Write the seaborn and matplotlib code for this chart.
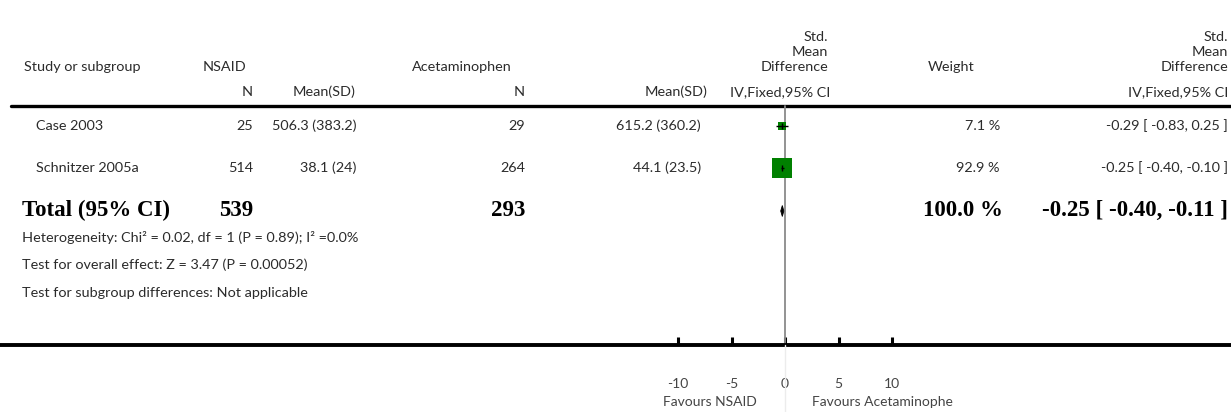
import matplotlib
matplotlib.use("Agg")
import matplotlib.pyplot as plt
import seaborn as sns
import pandas as pd
import numpy as np

# ---------------- data ----------------
studies = ["Case 2003", "Schnitzer 2005a"]
nsaid_n = [25, 514]
nsaid_mean_sd = ["506.3 (383.2)", "38.1 (24)"]
acet_n = [29, 264]
acet_mean_sd = ["615.2 (360.2)", "44.1 (23.5)"]
smd = [-0.29, -0.25]
ci_low = [-0.83, -0.40]
ci_high = [0.25, -0.10]
weights = [7.1, 92.9]

total_label = "Total (95% CI)"
total_nsaid_n = 539
total_acet_n = 293
total_weight = 100.0
total_smd = -0.25
total_low = -0.40
total_high = -0.11

footer_lines = [
    "Heterogeneity: Chi² = 0.02, df = 1 (P = 0.89); I² =0.0%",
    "Test for overall effect: Z = 3.47 (P = 0.00052)",
    "Test for subgroup differences: Not applicable",
]
tick_values = [-10, -5, 0, 5, 10]
tick_labels = ["-10", "-5", "0", "5", "10"]
favours_left = "Favours NSAID"
favours_right = "Favours Acetaminophe"

# ---------------- layout ----------------
W, H = 1231, 412
sns.set_theme(style="white")
plt.rcParams["font.family"] = ["Lato", "DejaVu Sans"]

fig = plt.figure(figsize=(W / 100, H / 100), dpi=100)
AX_BOTTOM = 345  # pixel row of the axis line
ax = fig.add_axes([0, 1 - AX_BOTTOM / H, 1, AX_BOTTOM / H])
X0, PX_PER_UNIT = 785, 10.7
ax.set_xlim(-X0 / PX_PER_UNIT, (W - X0) / PX_PER_UNIT)
ax.set_ylim(AX_BOTTOM, 0)

TXT = "#2b2b2b"
FS = 10.4
BFS = 16.5


def t(x, y, s, ha="left", bold=False, size=None, color=TXT, **kw):
    if bold:
        fig.text(x / W, 1 - y / H, s, ha=ha, va="center", fontsize=size or BFS,
                 fontweight="bold", family=["Liberation Serif", "DejaVu Serif"],
                 color="black", **kw)
    else:
        fig.text(x / W, 1 - y / H, s, ha=ha, va="center", fontsize=size or FS,
                 fontweight="normal", color=color, **kw)


# header
t(828, 37, "Std.", ha="right")
t(828, 52, "Mean", ha="right")
t(1228, 37, "Std.", ha="right")
t(1228, 52, "Mean", ha="right")
row_h1 = 67
t(24, row_h1, "Study or subgroup")
t(203, row_h1, "NSAID")
t(412, row_h1, "Acetaminophen")
t(828, row_h1, "Difference", ha="right")
t(951, row_h1, "Weight", ha="center")
t(1228, row_h1, "Difference", ha="right")
row_h2 = 92
t(253, row_h2, "N", ha="right")
t(356, row_h2, "Mean(SD)", ha="right")
t(525, row_h2, "N", ha="right")
t(707, row_h2, "Mean(SD)", ha="right")
t(830, row_h2, "IV,Fixed,95% CI", ha="right")
t(1228, row_h2, "IV,Fixed,95% CI", ha="right")

# top rule
ax.axhline(106, xmin=11 / W, xmax=1, color="black", lw=2.4, clip_on=False)

# study rows
row_y = [126, 168]
for i, y in enumerate(row_y):
    t(36, y, studies[i])
    t(253, y, str(nsaid_n[i]), ha="right")
    t(356, y, nsaid_mean_sd[i], ha="right")
    t(525, y, str(acet_n[i]), ha="right")
    t(701, y, acet_mean_sd[i], ha="right")
    t(1000, y, f"{weights[i]:.1f} %", ha="right")
    t(1228, y, f"{smd[i]:.2f} [ {ci_low[i]:.2f}, {ci_high[i]:.2f} ]", ha="right")

df = pd.DataFrame({"smd": smd, "y": row_y, "w": weights})
sns.scatterplot(data=df, x="smd", y="y", size="w", sizes=(30, 210), marker="s",
                color="#008000", edgecolor="none", legend=False, ax=ax, zorder=3)
ax.hlines(row_y, ci_low, ci_high, color="black", lw=1.0, zorder=4)
ax.scatter(smd, row_y, marker="|", s=25, color="black", lw=1.0, zorder=5)

# total row
ty = 210
t(22, ty, total_label, bold=True)
t(253, ty, str(total_nsaid_n), ha="right", bold=True)
t(525, ty, str(total_acet_n), ha="right", bold=True)
t(1003, ty, f"{total_weight:.1f} %", ha="right", bold=True)
t(1228, ty, f"{total_smd:.2f} [ {total_low:.2f}, {total_high:.2f} ]", ha="right", bold=True)
ax.fill([total_low, total_smd, total_high, total_smd],
        [ty + 1, ty - 4.5, ty + 1, ty + 6.5], color="black", lw=0.6, zorder=5)

# footer
for j, line in enumerate(footer_lines):
    t(22, 237 + 28 * j, line)

# reference line at zero
ax.axvline(0, ymin=0, ymax=(AX_BOTTOM - 106) / AX_BOTTOM, color="#8a8a8a", lw=1.3, zorder=2)
fig.add_artist(plt.Line2D([X0 / W, X0 / W], [0, 1 - AX_BOTTOM / H], color="#ececec", lw=1.0))

# axis
for side in ["top", "right", "left"]:
    ax.spines[side].set_visible(False)
ax.spines["bottom"].set_linewidth(2.8)
ax.spines["bottom"].set_color("black")
ax.set_yticks([])
ax.set_xticks(tick_values)
ax.set_xticklabels(tick_labels)
ax.tick_params(axis="x", bottom=True, direction="in", length=6, width=2.2, color="black",
               pad=24, labelsize=10, labelcolor="#444444")
ax.set_xlabel("")
ax.set_ylabel("")

t(757, 402, favours_left, ha="right", color="#444444", size=10)
t(812, 402, favours_right, ha="left", color="#444444", size=10)

fig.savefig("out.png", dpi=100)
